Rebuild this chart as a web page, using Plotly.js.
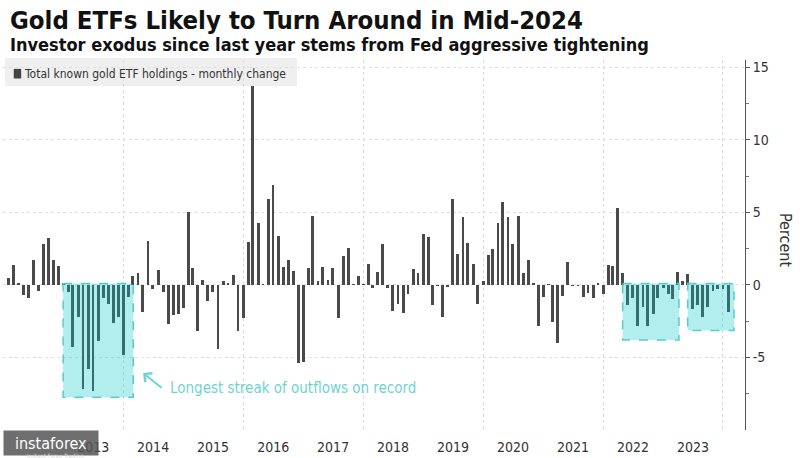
<!DOCTYPE html>
<html>
<head>
<meta charset="utf-8">
<script src="https://cdn.plot.ly/plotly-3.0.1.min.js"></script>
<style>
html,body{margin:0;padding:0;background:#fff;}
#chart{width:800px;height:458px;}
</style>
</head>
<body>
<div id="chart"></div>
<script>
// Monthly change in total known gold ETF holdings (%), Jan of each year first
const years = [2012, 2013, 2014, 2015, 2016, 2017, 2018, 2019, 2020, 2021, 2022, 2023, 2024];
const v2012 = [0.5, 1.4, 0.1, -0.7, -0.9, 1.7, -0.45, 2.8, 3.2, 1.7, 1.3, 0.1];
const v2013 = [-0.5, -4.3, -2.2, -7.2, -5.8, -7.3, -3.9, -0.9, -1.3, -2.6, -2.2, -4.85];
const v2014 = [-0.8, 0.6, 0.8, -1.85, 3.0, -0.3, 1.0, -0.5, -2.7, -2.1, -2.0, -1.6];
const v2015 = [5.0, 1.15, -3.2, 0.35, -1.1, -0.5, -4.4, 0.3, 0.14, 0.65, -3.2, -2.3];
const v2016 = [2.95, 13.7, 4.27, 0.05, 5.9, 6.86, 3.35, 1.22, 1.73, 0.95, -5.36, -5.3];
const v2017 = [1.15, 4.75, 0.3, 1.22, 0.35, 1.15, -2.3, 1.96, 2.54, 0.03, 0.58, 0.03];
const v2018 = [1.44, -0.23, 0.88, 2.82, -0.2, -1.8, -1.32, -1.96, -0.65, 1.1, 0.85, 3.48];
const v2019 = [3.28, -1.39, -0.05, -2.22, -0.15, 5.94, 2.12, 4.67, 2.89, 1.43, -1.32, 0.3];
const v2020 = [2.05, 2.5, 4.27, 5.7, 4.65, 2.82, 4.73, 0.83, 1.73, 0.13, -2.86, -0.8];
const v2021 = [0.05, -2.56, -4.02, -0.75, 1.57, -0.1, -0.1, -0.8, -0.57, -0.87, 0.13, -0.64];
const v2022 = [1.36, 1.27, 5.3, 0.8, -1.39, -0.87, -2.83, -1.49, -2.83, -1.98, -0.87, -0.23];
const v2023 = [-0.63, -0.95, 0.87, 0.29, 0.75, -1.67, -1.4, -2.22, -1.5, -0.45, -0.25, -0.3];
const v2024 = [-1.9];
const yearValues = [v2012, v2013, v2014, v2015, v2016, v2017, v2018, v2019, v2020, v2021, v2022, v2023, v2024];

const tickYears = ['2013', '2014', '2015', '2016', '2017', '2018', '2019', '2020', '2021', '2022', '2023'];
const yTickVals = [-5, 0, 5, 10, 15];
const yTickText = ['-5', '0', '5', '10', '15'];

const seriesName = 'Total known gold ETF holdings - monthly change';
const titleText = 'Gold ETFs Likely to Turn Around in Mid-2024';
const subtitleText = 'Investor exodus since last year stems from Fed aggressive tightening';
const noteText = 'Longest streak of outflows on record';

const months = [];
const values = [];
years.forEach((yr, i) => {
  yearValues[i].forEach((v, m) => {
    months.push(yr + '-' + String(m + 1).padStart(2, '0'));
    values.push(v);
  });
});

const FONT = '"DejaVu Sans Condensed", "DejaVu Sans", sans-serif';
const TEAL = '#6fd3d3';
const DAY = 86400000;

const trace = {
  type: 'bar',
  x: months,
  y: values,
  xperiod: 'M1',
  xperiodalignment: 'end',
  width: 18 * DAY,
  marker: {color: '#4a4a4a'},
  name: seriesName,
  hoverinfo: 'x+y',
  showlegend: false
};

const box = (x0, x1, y1) => ({
  type: 'rect', xref: 'x', yref: 'y', x0: x0, x1: x1, y0: 0.1, y1: y1,
  fillcolor: 'rgba(0,200,200,0.3)',
  line: {color: 'rgb(85,205,205)', width: 1.5, dash: 'dash'},
  layer: 'above'
});

const layout = {
  width: 800,
  height: 458,
  margin: {l: 3, r: 55, t: 60, b: 28},
  paper_bgcolor: '#ffffff',
  plot_bgcolor: '#ffffff',
  font: {family: FONT, color: '#333333'},
  bargap: 0,
  xaxis: {
    type: 'date',
    range: ['2011-12-31', '2024-05-14'],
    tickmode: 'array',
    tickvals: tickYears.map(y => y + '-07-02'),
    ticktext: tickYears,
    ticks: '',
    ticklabelstandoff: 7,
    showgrid: false,
    zeroline: false,
    showline: false,
    tickfont: {family: FONT, size: 14, color: '#333333'},
    minor: {tick0: '2014-01-01', dtick: 'M24', showgrid: true, gridcolor: '#d9d9d9', griddash: 'dot', gridwidth: 1, ticks: ''}
  },
  yaxis: {
    side: 'right',
    range: [-10, 15.5],
    tickmode: 'array',
    tickvals: yTickVals,
    ticktext: yTickText,
    ticks: 'outside',
    ticklen: 4,
    tickcolor: '#555555',
    showline: true,
    linecolor: '#555555',
    linewidth: 1,
    showgrid: true,
    gridcolor: '#e0e0e0',
    griddash: 'dot',
    zeroline: false,
    tickfont: {family: FONT, size: 14, color: '#333333'},
    minor: {tick0: 2.5, dtick: 5, ticks: 'outside', ticklen: 3, tickcolor: '#777777', showgrid: false}
  },
  shapes: [
    // legend background and swatch
    {type: 'rect', xref: 'paper', yref: 'paper', x0: 0.0027, x1: 0.3962, y0: 0.9297, y1: 1.0054,
     fillcolor: '#efefef', line: {width: 0}, layer: 'below'},
    {type: 'rect', xref: 'paper', yref: 'paper', x0: 0.0145, x1: 0.0245, y0: 0.950, y1: 0.976,
     fillcolor: '#444444', line: {width: 0}},
    box('2012-12-31', '2014-03-03', -7.75),
    box('2022-04-30', '2023-04-08', -3.8),
    box('2023-05-31', '2024-03-08', -3.15)
  ],
  annotations: [
    {xref: 'paper', yref: 'paper', x: 0.0067, y: 1.108, xanchor: 'left', yanchor: 'middle',
     text: '<b>' + titleText + '</b>', showarrow: false,
     font: {family: FONT, size: 25.5, color: '#111111'}},
    {xref: 'paper', yref: 'paper', x: 0.0067, y: 1.043, xanchor: 'left', yanchor: 'middle',
     text: '<b>' + subtitleText + '</b>', showarrow: false,
     font: {family: FONT, size: 18, color: '#111111'}},
    {xref: 'paper', yref: 'paper', x: 0.026, y: 0.9635, xanchor: 'left', yanchor: 'middle',
     text: seriesName, showarrow: false,
     font: {family: FONT, size: 12, color: '#333333'}},
    {xref: 'paper', yref: 'paper', x: 1.0553, y: 0.5135, xanchor: 'center', yanchor: 'middle',
     text: 'Percent', textangle: 90, showarrow: false,
     font: {family: FONT, size: 16, color: '#333333'}},
    {xref: 'paper', yref: 'paper', x: 0.2224, y: 0.1135, xanchor: 'left', yanchor: 'middle',
     text: noteText, showarrow: false,
     font: {family: FONT, size: 15, color: TEAL}},
    {xref: 'x', yref: 'y', x: '2014-05-02', y: -6.07, ax: 20, ay: 16, text: '',
     showarrow: true, arrowhead: 4, arrowsize: 1.1, arrowwidth: 2, arrowcolor: TEAL},
    // watermark
    {xref: 'paper', yref: 'paper', x: 0, y: -0.035, xanchor: 'left', yanchor: 'middle',
     text: 'instaforex', showarrow: false, width: 92, height: 22, align: 'center',
     bgcolor: 'rgba(85,85,85,0.85)', borderpad: 1,
     font: {family: FONT, size: 16, color: '#ffffff'}},
    {xref: 'paper', yref: 'paper', x: 0.03, y: -0.069, xanchor: 'left', yanchor: 'middle',
     text: 'Instant Forex Trading', showarrow: false,
     font: {family: FONT, size: 6, color: '#dddddd'}}
  ]
};

Plotly.newPlot('chart', [trace], layout, {displayModeBar: false, staticPlot: true});
</script>
</body>
</html>
